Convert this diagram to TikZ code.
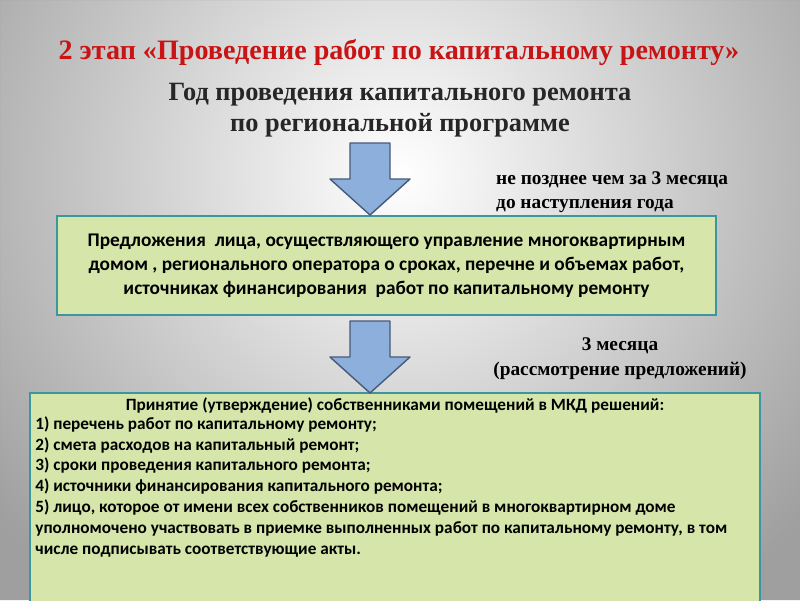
\documentclass[tikz,border=0pt]{standalone}
\usepackage{fontspec}
\setmainfont{Liberation Serif}
\newfontfamily\boxfont{Carlito}
\definecolor{titlered}{RGB}{200,20,20}
\definecolor{boxgreen}{RGB}{214,230,170}
\definecolor{boxedge}{RGB}{60,150,160}
\definecolor{arrowblue}{RGB}{140,175,220}
\definecolor{arrowedge}{RGB}{70,90,120}
\tikzset{
  stagebox/.style={draw=boxedge, line width=1.2pt, fill=boxgreen, inner sep=0pt},
  downarrow/.style={draw=arrowedge, line width=0.8pt, fill=arrowblue, line join=round},
  note/.style={font=\bfseries\fontsize{11}{14}\selectfont, align=left, anchor=north west},
  listtext/.style={font=\boxfont\bfseries\fontsize{9.8}{11.9}\selectfont, inner sep=0pt}
}
% block arrow pointing down, top centre at #1
\newcommand\blockarrow[1]{%
  \path[downarrow] #1 ++(-0.4,0) -- ++(0.8,0) -- ++(0,-0.72) -- ++(0.4,0)
    -- ++(-0.8,-0.72) -- ++(-0.8,0.72) -- ++(0.4,0) -- cycle;}
\begin{document}
\begin{tikzpicture}
  % background
  \useasboundingbox (0,0) rectangle (16,-12);
  \fill[gray!75] (0,0) rectangle (16,-12);
  \shade[inner color=white, outer color=gray!75] (8,-3.5) circle (10.5cm);
  \fill[gray!75, even odd rule] (0,0) rectangle (16,-12) (8,-3.5) circle (11cm);
  % headings
  \node[text=titlered, font=\bfseries\fontsize{16}{19}\selectfont] (title) at (7.98,-1.04)
    {2 этап «Проведение работ по капитальному ремонту»};
  \node[text=black!85, font=\bfseries\fontsize{15}{18}\selectfont, align=center] (year) at (8,-2.2)
    {Год проведения капитального ремонта\\по региональной программе};
  % boxes
  \node[stagebox, minimum width=13.18cm, minimum height=1.98cm, align=center,
    font=\boxfont\bfseries\fontsize{11}{13.6}\selectfont] (offer) at (7.73,-5.31)
    {Предложения\ \ лица, осуществляющего управление многоквартирным\\
     домом , регионального оператора о сроках, перечне и объемах работ,\\
     источниках финансирования\ \ работ по капитальному ремонту};
  \node[stagebox, minimum width=14.6cm, minimum height=4.3cm] (decision) at (7.9,-10.01) {};
  \node[listtext] (listhead) at (7.9,-8.1)
    {Принятие (утверждение) собственниками помещений в МКД решений:};
  \node[listtext, anchor=north west, align=left] (list) at (0.7,-8.32)
    {1) перечень работ по капитальному ремонту;\\
     2) смета расходов на капитальный ремонт;\\
     3) сроки проведения капитального ремонта;\\
     4) источники финансирования капитального ремонта;\\
     5) лицо, которое от имени всех собственников помещений в многоквартирном доме\\
     уполномочено участвовать в приемке выполненных работ по капитальному ремонту, в том\\
     числе подписывать соответствующие акты.};
  % arrows
  \blockarrow{(7.4,-2.86)}
  \blockarrow{(7.4,-6.42)}
  % notes
  \node[note] (term) at (9.8,-3.3) {не позднее чем за 3 месяца\\до наступления года};
  \node[font=\bfseries\fontsize{11}{14}\selectfont, align=center] (review) at (12.4,-7.17)
    {3 месяца\\(рассмотрение предложений)};
\end{tikzpicture}
\end{document}
